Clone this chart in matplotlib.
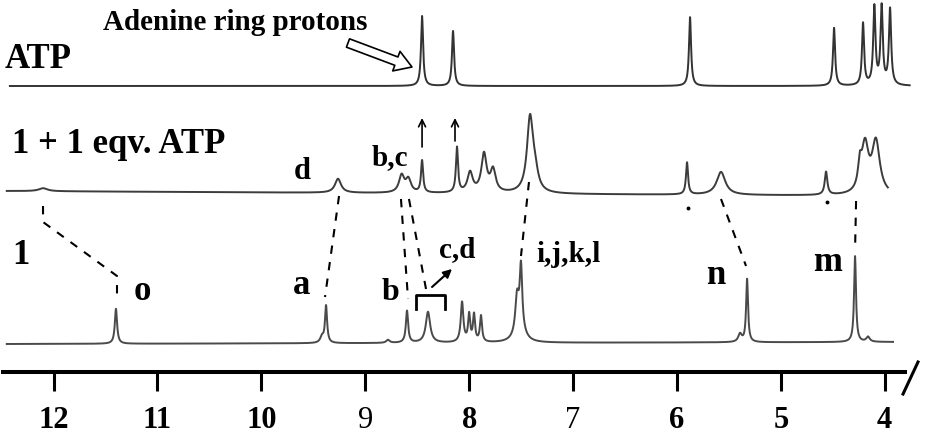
import numpy as np
import matplotlib
matplotlib.use("Agg")
import matplotlib.pyplot as plt

SERIF = ["Liberation Serif", "DejaVu Serif"]

# ---------------- axis ----------------
ppm_ticks = [12, 11, 10, 9, 8, 7, 6, 5, 4]
tick_labels = ["12", "11", "10", "9", "8", "7", "6", "5", "4"]
tick_weights = ["bold", "bold", "bold", "normal", "bold", "normal", "bold", "bold", "bold"]

# ---------------- spectra (peak lists) ----------------
# top: ATP
atp_pos = [8.453, 8.155, 5.874, 4.488, 4.209, 4.100, 4.030, 3.949]
atp_height = [70, 55, 69, 58, 62, 78, 78, 76]
atp_width = [0.012, 0.012, 0.012, 0.012, 0.012, 0.013, 0.013, 0.013]
atp_span = (12.42, 3.76)
atp_base = (87, 87)

# middle: 1 + 1 eqv. ATP
mix_pos = [12.10, 9.262, 8.650, 8.585, 8.453, 8.117, 7.991, 7.857, 7.770,
           7.414, 7.366, 5.903, 5.576, 4.565, 4.240, 4.190, 4.085]
mix_height = [3, 14, 17, 13, 32, 45, 20, 38, 22,
              74, 16, 32, 23, 23, 22, 47, 52]
mix_width = [0.05, 0.035, 0.03, 0.03, 0.012, 0.012, 0.03, 0.03, 0.03,
             0.035, 0.035, 0.012, 0.05, 0.015, 0.02, 0.04, 0.045]
mix_span = (12.45, 3.97)
mix_base = (192, 197)

# bottom: 1
free_pos = [11.399, 9.416, 9.377, 8.781, 8.598, 8.396, 8.068, 8.000, 7.953, 7.886,
            7.539, 7.501, 7.51, 5.393, 5.325, 4.286, 4.161]
free_height = [35, 6, 37, 3, 32, 31, 40, 27, 27, 26,
               35, 60, 15, 8, 63, 86, 5]
free_width = [0.013, 0.02, 0.012, 0.02, 0.013, 0.025, 0.015, 0.012, 0.012, 0.012,
              0.02, 0.014, 0.05, 0.02, 0.011, 0.011, 0.02]
free_span = (12.45, 3.92)
free_base = (345, 343)


def trace(span, base, pos, height, width, n=7000):
    x = np.linspace(span[0], span[1], n)
    sig = np.zeros_like(x)
    for p, h, w in zip(pos, height, width):
        sig += h / (1.0 + ((x - p) / w) ** 2)
    b = np.interp(x, [span[1], span[0]], [base[1], base[0]])
    return x, b - sig


fig = plt.figure(figsize=(9.26, 4.35), dpi=100)
ax = fig.add_axes([0, 0, 1, 1])
ax.set_xlim(12.515, 3.603)
ax.set_ylim(435, 0)

for span, base, pos, hh, ww, col in [
    (atp_span, atp_base, atp_pos, atp_height, atp_width, "#333333"),
    (mix_span, mix_base, mix_pos, mix_height, mix_width, "#3c3c3c"),
    (free_span, free_base, free_pos, free_height, free_width, "#4a4a4a"),
]:
    x, y = trace(span, base, pos, hh, ww)
    ax.plot(x, y, color=col, lw=1.4, solid_joinstyle="round")

# ---------------- axis styling ----------------
for s in ["top", "left", "right"]:
    ax.spines[s].set_visible(False)
ax.spines["bottom"].set_position(("data", 373))
ax.spines["bottom"].set_bounds(12.486, 3.805)
ax.spines["bottom"].set_linewidth(2.9)
ax.yaxis.set_visible(False)
ax.set_xticks(ppm_ticks)
ax.set_xticklabels(tick_labels)
ax.tick_params(axis="x", direction="out", length=13.7, width=2.2, pad=10,
               labelsize=22)
for lbl, wt in zip(ax.get_xticklabels(), tick_weights):
    lbl.set_fontfamily(SERIF)
    lbl.set_fontweight(wt)
# axis break mark
ax.plot([3.824, 3.680], [395, 363], color="black", lw=2.2, clip_on=False)

# ---------------- labels ----------------
def lab(x, y, s, size, ha="center"):
    ax.text(x, y, s, fontsize=size, fontweight="bold", family=SERIF,
            ha=ha, va="center")

lab(12.467, 59, "ATP", 25, ha="left")
lab(10.253, 22, "Adenine ring protons", 21)
lab(12.40, 145, "1 + 1 eqv. ATP", 25, ha="left")
lab(9.608, 172, "d", 22)
lab(8.761, 158, "b,c", 21)
lab(12.313, 256, "1", 25)
lab(11.148, 292, "o", 25)
lab(9.608, 286, "a", 25)
lab(8.761, 293, "b", 23)
lab(8.117, 250, "c,d", 21)
lab(7.039, 255, "i,j,k,l", 21)
lab(5.624, 276, "n", 25)
lab(4.555, 263, "m", 25)

# hollow arrow to adenine protons
ax.annotate("", xy=(8.550, 68), xytext=(9.166, 44),
            arrowprops=dict(arrowstyle="simple,head_length=0.6,head_width=0.75,tail_width=0.32",
                            fc="white", ec="black", lw=1.2, mutation_scale=20,
                            shrinkA=0, shrinkB=0))
# upward arrows above ATP peaks
for xa, y0 in [(8.453, 148), (8.136, 142)]:
    ax.annotate("", xy=(xa, 119), xytext=(xa, y0),
                arrowprops=dict(arrowstyle="->,head_length=0.5,head_width=0.25",
                                color="black", lw=1.2, shrinkA=0, shrinkB=0))
# bracket for c,d
ax.plot([8.511, 8.511, 8.232, 8.232], [310, 296, 296, 310], color="black", lw=2)
ax.annotate("", xy=(8.165, 270), xytext=(8.357, 288),
            arrowprops=dict(arrowstyle="-|>,head_length=0.5,head_width=0.25",
                            color="black", lw=1.5, shrinkA=0, shrinkB=0))

# dashed correlation lines
dash = dict(color="black", lw=1.5, ls=(0, (4, 4)))
links = [
    ([12.101, 12.101, 11.389, 11.389], [207, 223, 277, 300]),
    ([9.252, 9.387], [197, 298]),
    ([8.656, 8.588], [200, 300]),
    ([8.579, 8.415], [200, 290]),
    ([7.424, 7.501], [183, 257]),
    ([5.576, 5.335], [200, 267]),
    ([4.276, 4.286], [202, 252]),
]
for lx, ly in links:
    ax.plot(lx, ly, **dash)
ax.plot([5.893, 4.555], [209, 203], ls="none", marker="o", ms=1.8, color="black")

fig.savefig("out.png", dpi=100)
